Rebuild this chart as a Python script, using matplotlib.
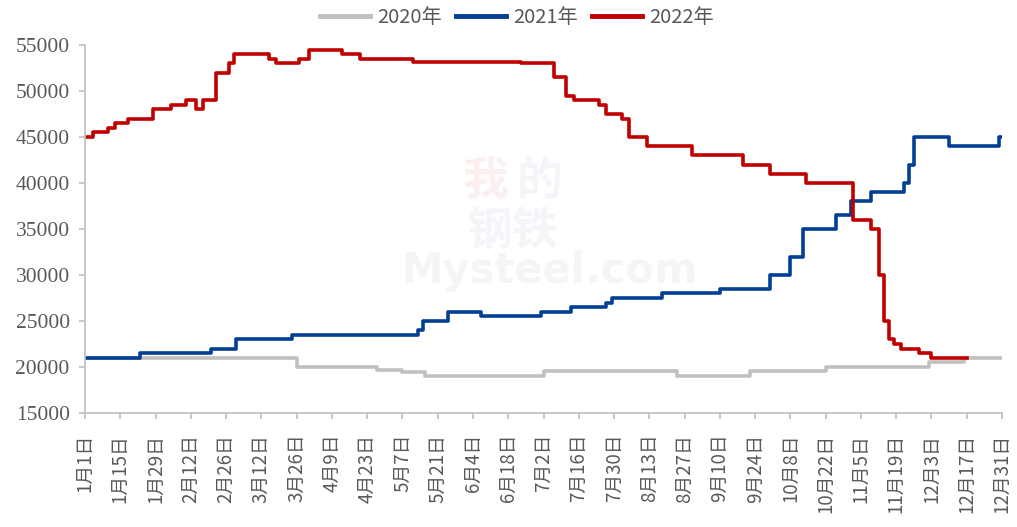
import matplotlib
matplotlib.use('Agg')
import matplotlib.pyplot as plt
import pandas as pd

plt.rcParams['font.family'] = ['Noto Sans CJK SC', 'DejaVu Sans']

# 价格变化点: 第几天(从1月1日起), 价格
days_2020 = [0, 84, 116, 126, 135, 182, 235, 264, 294, 335, 349, 364]
vals_2020 = [21000, 20000, 19700, 19500, 19000, 19600, 19000, 19600, 20000, 20500, 21000, 21000]

days_2021 = [0, 22, 50, 60, 82, 132, 134, 144, 157, 181, 193, 207, 209, 229, 252,
             272, 280, 285, 298, 304, 312, 325, 327, 329, 343, 363, 364]
vals_2021 = [21000, 21500, 22000, 23000, 23500, 24000, 25000, 26000, 25500, 26000, 26500,
             27000, 27500, 28000, 28500, 30000, 32000, 35000, 36500, 38000, 39000, 40000,
             42000, 45000, 44000, 45000, 45000]

days_2022 = [0, 3, 9, 12, 17, 27, 34, 40, 44, 47, 52, 57, 59, 73, 76, 85, 89, 102, 109,
             130, 173, 186, 191, 194, 204, 207, 213, 216, 223, 241, 261, 272, 286, 305,
             312, 315, 317, 319, 321, 324, 331, 336, 350]
vals_2022 = [45000, 45500, 46000, 46500, 47000, 48000, 48500, 49000, 48000, 49000, 52000,
             53000, 54000, 53500, 53000, 53500, 54500, 54000, 53500, 53200, 53000, 51500,
             49500, 49000, 48500, 47500, 47000, 45000, 44000, 43000, 42000, 41000, 40000,
             36000, 35000, 30000, 25000, 23000, 22500, 22000, 21500, 21000, 21000]

tick_dates = pd.date_range('2022-01-01', '2022-12-31', freq='14D')
tick_days = [(d - tick_dates[0]).days for d in tick_dates]
tick_labels = [f'{d.month}月{d.day}日' for d in tick_dates]

fig = plt.figure(figsize=(10.17, 5.27), dpi=100)
ax = fig.add_axes([85/1017, 1 - 413/527, 917/1017, 368/527])

# 水印 (很淡)
fig.text(0.477, 0.655, '我', fontsize=33, color='#e08080', alpha=0.12,
         ha='center', va='center', fontweight='bold')
fig.text(0.531, 0.655, '的', fontsize=33, color='#b0bcd8', alpha=0.15,
         ha='center', va='center', fontweight='bold')
fig.text(0.504, 0.56, '钢铁', fontsize=33, color='#b0bcd8', alpha=0.15,
         ha='center', va='center', fontweight='bold')
fig.text(0.54, 0.485, 'Mysteel.com', fontsize=30, color='#c8c8c8', alpha=0.18,
         ha='center', va='center', fontweight='bold', family='DejaVu Sans')

ax.plot(days_2020, vals_2020, drawstyle='steps-post', color='#C0C0C0', lw=2.6, label='2020年')
ax.plot(days_2021, vals_2021, drawstyle='steps-post', color='#003F93', lw=2.6, label='2021年')
ax.plot(days_2022, vals_2022, drawstyle='steps-post', color='#C00000', lw=2.6, label='2022年')

ax.set_xlim(0, 364)
ax.set_ylim(15000, 55000)
ax.set_yticks(range(15000, 55001, 5000))
ax.set_yticklabels([str(v) for v in range(15000, 55001, 5000)],
                   family='Liberation Serif', fontsize=15.5, color='#595959')
ax.set_xticks(tick_days)
ax.set_xticklabels(tick_labels, rotation=90, fontsize=13.5, color='#595959')

for s in ['top', 'right']:
    ax.spines[s].set_visible(False)
for s in ['left', 'bottom']:
    ax.spines[s].set_color('#BFBFBF')
    ax.spines[s].set_linewidth(1.2)
ax.tick_params(axis='both', colors='#BFBFBF', length=4, width=1.2)
ax.tick_params(axis='y', pad=7, labelcolor='#595959')
ax.tick_params(axis='x', pad=11, labelcolor='#595959')

leg = fig.legend(loc='center', bbox_to_anchor=(0.508, 0.966), ncol=3, frameon=False,
                 fontsize=14.5, handlelength=2.5, handletextpad=0.35, columnspacing=0.7)
for t in leg.get_texts():
    t.set_color('#595959')
for l in leg.get_lines():
    l.set_linewidth(3.5)

fig.savefig('out.png', dpi=100)
